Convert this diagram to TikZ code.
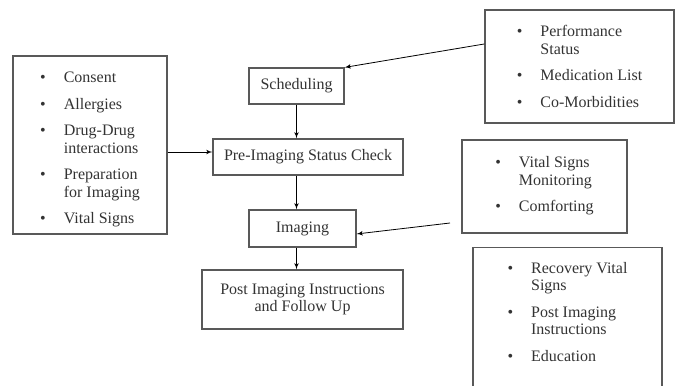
\documentclass[tikz,border=0pt]{standalone}
\usepackage{fontspec}
\setmainfont{Liberation Serif}
\usetikzlibrary{arrows}
\newcommand{\itemgap}{\\[6.8pt]}

\begin{document}
\begin{tikzpicture}[
		x=0.75pt, y=-0.75pt,
		box/.style={draw=black!65, line width=0.9pt, text=black!80, inner sep=0pt},
		listbox/.style={box, align=left},
		flow/.style={->, line width=0.6pt},
		>=latex',
		font=\fontsize{12}{13.1}\selectfont]
	\useasboundingbox (0,0) rectangle (677,385);
	\clip (0,0) rectangle (677,385);
	%% define steps
	\node (sched) at (296.5,86) [box, minimum width=71.25pt, minimum height=27pt] {Scheduling};
	\node (precheck) at (308,157) [box, minimum width=142.5pt, minimum height=27pt] {Pre-Imaging Status Check};
	\node (imaging) at (302.5,228.5) [box, minimum width=80.25pt, minimum height=27.75pt] {Imaging};
	\node (post) at (302.5,299.5) [box, align=center, minimum width=150.75pt, minimum height=44.25pt] {Post Imaging Instructions\\and Follow Up};
	%% define lists
	\node (prep) at (90,145) [listbox, minimum width=115.5pt, minimum height=133.5pt] {%
		\begin{tabular}{@{}l@{\hspace{13.5pt}}l@{}}\noalign{\vskip 7pt}
			\textbullet & Consent\itemgap
			\textbullet & Allergies\itemgap
			\textbullet & Drug-Drug\\
			            & interactions\itemgap
			\textbullet & Preparation\\
			            & for Imaging\itemgap
			\textbullet & Vital Signs
		\end{tabular}};
	\node (history) at (579.5,66.5) [listbox, minimum width=141.75pt, minimum height=84.75pt] {%
		\begin{tabular}{@{}l@{\hspace{13.5pt}}l@{}}\noalign{\vskip 3pt}
			\textbullet & Performance\\
			            & Status\itemgap
			\textbullet & Medication List\itemgap
			\textbullet & Co-Morbidities
		\end{tabular}};
	\node (monitor) at (544.5,186.5) [listbox, minimum width=123.75pt, minimum height=69.75pt] {%
		\begin{tabular}{@{}l@{\hspace{13.5pt}}l@{}}
			\textbullet & Vital Signs\\
			            & Monitoring\itemgap
			\textbullet & Comforting
		\end{tabular}};
	\node (recovery) at (567.5,247) [listbox, anchor=north, minimum width=141.75pt, inner ysep=10pt] {%
		\begin{tabular}{@{}l@{\hspace{13.5pt}}l@{}}
			\textbullet & Recovery Vital\\
			            & Signs\itemgap
			\textbullet & Post Imaging\\
			            & Instructions\itemgap
			\textbullet & Education\\[45pt]
		\end{tabular}};
	\coordinate (monitortail) at (450,223);
	%% define arrows
	\draw[flow] (sched.south) -- (sched.south |- precheck.north);
	\draw[flow] (sched.south |- precheck.south) -- (sched.south |- imaging.north);
	\draw[flow] (sched.south |- imaging.south) -- (sched.south |- post.north);
	\draw[flow] ([yshift=-5.25pt]prep.east) -- ([yshift=-5.25pt]prep.east -| precheck.west);
	\draw[flow] ([yshift=16.9pt]history.west) -- (sched.north east);
	\draw[flow] (monitortail) -- ([yshift=-4.1pt]imaging.east);
\end{tikzpicture}
\end{document}
